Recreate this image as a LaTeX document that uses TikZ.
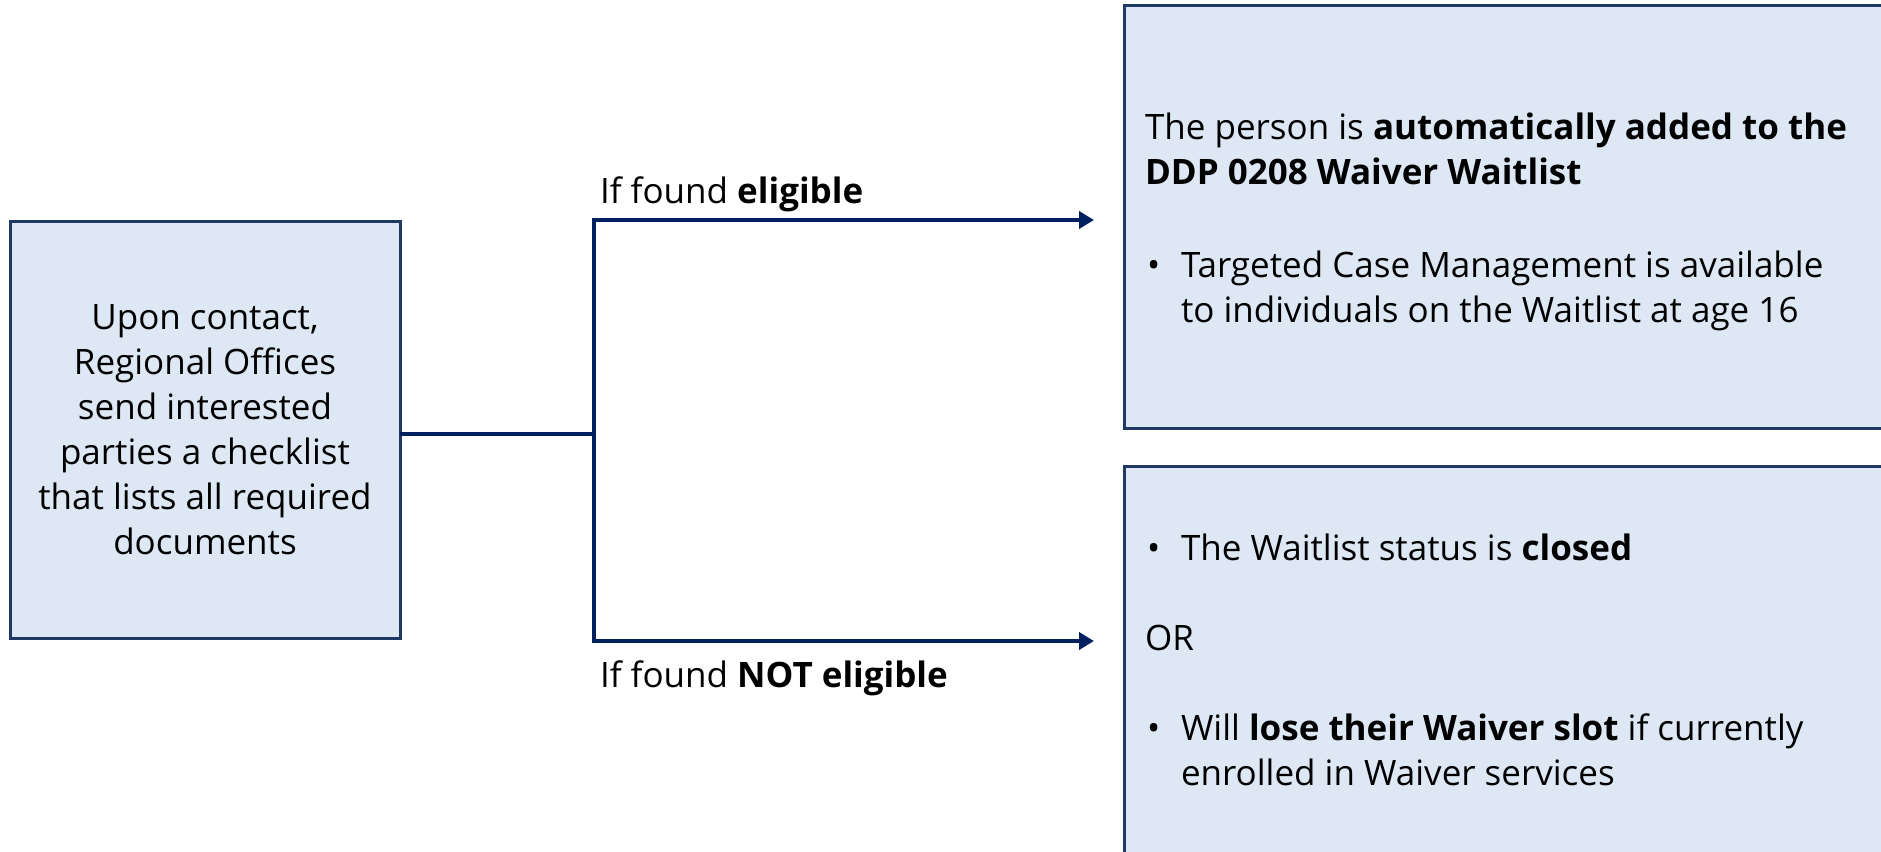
\documentclass[tikz,border=0pt]{standalone}
\usepackage{fontspec}
\setmainfont{Open Sans}
\usetikzlibrary{arrows.meta}
\definecolor{navy}{HTML}{002060}
\definecolor{boxline}{HTML}{1F3864}
\definecolor{boxfill}{HTML}{DEE8F5}
\tikzset{
  box/.style={draw=boxline, fill=boxfill, line width=3pt, inner sep=0pt, outer sep=0pt, rectangle},
  conn/.style={draw=navy, line width=4pt},
  txt/.style={font=\fontsize{35}{45}\selectfont, inner sep=0pt, outer sep=0pt, text=black, align=left, anchor=base west},
}
\begin{document}
\begin{tikzpicture}[x=1pt,y=1pt]
\useasboundingbox (0,0) rectangle (1881,-851);
% boxes
\node[box, minimum width=390pt, minimum height=417pt, align=center,
      font=\fontsize{35}{45}\selectfont] (src) at (205,-429.5)
  {Upon contact,\\Regional Offices\\send interested\\parties a checklist\\that lists all required\\documents};
\node[box, minimum width=771pt, minimum height=422.5pt] (elig) at (1509.5,-216.75) {};
\node[box, minimum width=771pt, minimum height=403.5pt] (inel) at (1509.5,-668.25) {};
% connectors
\coordinate (jc) at (594,-433.5);
\coordinate (jt) at (594,-220);
\coordinate (jb) at (594,-641);
\coordinate (et) at (1094,-220);
\coordinate (eb) at (1094,-641);
\draw[conn] (src.east |- jc) -- (jc);
\draw[conn, {Triangle[length=15pt,width=17pt]}-{Triangle[length=15pt,width=17pt]}] (et) -- (jt) -- (jb) -- (eb);
% labels
\node[txt] (leli) at (600,-203) {If found \textbf{eligible}};
\node[txt] (lnot) at (600,-687) {If found \textbf{NOT eligible}};
% top box text (base anchor = last line of a multi-line node)
\node[txt] (t1) at (1145,-184) {The person is \textbf{automatically added to the}\\\textbf{DDP 0208 Waiver Waitlist}};
\node[txt] (b1) at (1147,-277) {•};
\node[txt] (t2) at (1181,-322) {Targeted Case Management is available\\to individuals on the Waitlist at age 16};
% bottom box text
\node[txt] (b2) at (1147,-560) {•};
\node[txt] (t3) at (1181,-560) {The Waitlist status is \textbf{closed}};
\node[txt] (t4) at (1145,-650) {OR};
\node[txt] (b3) at (1147,-740) {•};
\node[txt] (t5) at (1181,-785) {Will \textbf{lose their Waiver slot} if currently\\enrolled in Waiver services};
\end{tikzpicture}
\end{document}
